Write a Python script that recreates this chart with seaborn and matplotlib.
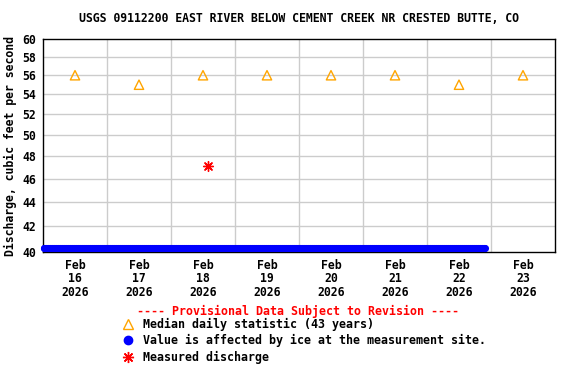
import matplotlib
matplotlib.use("Agg")
import matplotlib.pyplot as plt
from matplotlib.lines import Line2D
from matplotlib.ticker import FixedLocator, NullLocator, NullFormatter
import seaborn as sns
import pandas as pd

# ---- data ----
title = "USGS 09112200 EAST RIVER BELOW CEMENT CREEK NR CRESTED BUTTE, CO"
median_dates = ["2026-02-16 12:00", "2026-02-17 12:00", "2026-02-18 12:00", "2026-02-19 12:00",
                "2026-02-20 12:00", "2026-02-21 12:00", "2026-02-22 12:00", "2026-02-23 12:00"]
median_values = [56, 55, 56, 56, 56, 56, 55, 56]
ice_start = "2026-02-16 00:15"
ice_end = "2026-02-22 21:45"
ice_value = 40.3
measured_dates = ["2026-02-18 14:00"]
measured_values = [47.1]
y_ticks = [40, 42, 44, 46, 48, 50, 52, 54, 56, 58, 60]
tick_days = ["2026-02-16", "2026-02-17", "2026-02-18", "2026-02-19",
             "2026-02-20", "2026-02-21", "2026-02-22", "2026-02-23"]

sns.set_theme(style="white")
plt.rcParams['font.family'] = ['DejaVu Sans Mono', 'DejaVu Sans']
plt.rcParams['font.weight'] = 'bold'
plt.rcParams['text.color'] = 'black'
plt.rcParams['xtick.color'] = 'black'
plt.rcParams['ytick.color'] = 'black'
plt.rcParams['axes.labelcolor'] = 'black'

med = pd.DataFrame({"t": pd.to_datetime(median_dates), "v": median_values})
ice_t = pd.date_range(ice_start, ice_end, freq="15min")
ice = pd.DataFrame({"t": ice_t, "v": [ice_value] * len(ice_t)})
meas = pd.DataFrame({"t": pd.to_datetime(measured_dates), "v": measured_values})

fig = plt.figure(figsize=(5.76, 3.84), dpi=100)
ax = fig.add_axes([43/576, 1-252/384, 512/576, 213/384])
ax.set_yscale("log")

xmin = pd.Timestamp("2026-02-16 00:00")
xmax = pd.Timestamp("2026-02-24 00:00")

# grid
for d in pd.date_range("2026-02-17", "2026-02-23", freq="D"):
    ax.axvline(d, color="#cccccc", lw=1, zorder=0)
for y in y_ticks[1:-1]:
    ax.axhline(y, color="#cccccc", lw=1, zorder=0)

sns.scatterplot(data=ice, x="t", y="v", ax=ax, color="#0000ff", marker="o", s=26,
                linewidth=0, zorder=3, clip_on=False)
sns.scatterplot(data=med, x="t", y="v", ax=ax, marker="^", s=45, facecolors="none",
                edgecolor="#ffa500", linewidth=1, zorder=4)
sns.scatterplot(data=meas, x="t", y="v", ax=ax, marker=(8, 2, 0), s=50, color="#ff0000",
                edgecolor="#ff0000", linewidth=1.0, zorder=5)

ax.set_xlim(xmin, xmax)
ax.set_ylim(40, 60)
ax.yaxis.set_major_locator(FixedLocator(y_ticks))
ax.yaxis.set_minor_locator(NullLocator())
ax.yaxis.set_minor_formatter(NullFormatter())
ax.set_yticklabels([str(v) for v in y_ticks], fontsize=8.3, fontweight="bold")
tick_pos = [pd.Timestamp(d) + pd.Timedelta(hours=12) for d in tick_days]
ax.set_xticks(tick_pos)
ax.set_xticklabels([pd.Timestamp(d).strftime("%b\n%d\n%Y") for d in tick_days],
                   fontsize=8.3, fontweight="bold", linespacing=1.05)
ax.tick_params(axis="both", which="both", length=0, pad=5)
ax.set_xlabel("")
ax.set_ylabel("Discharge, cubic feet per second", fontsize=8.3, fontweight="bold", labelpad=4)
for s in ax.spines.values():
    s.set_color("black")
    s.set_linewidth(1)

fig.text(299/576, 1-19/384, title, ha="center", va="center", fontsize=8.3, fontweight="bold")
fig.text(298/576, 1-311/384, "---- Provisional Data Subject to Revision ----", ha="center",
         va="center", fontsize=8.35, fontweight="bold", color="#ff0000")

handles = [
    Line2D([], [], marker="^", linestyle="none", markerfacecolor="none",
           markeredgecolor="#ffa500", markersize=7.5, markeredgewidth=1),
    Line2D([], [], marker="o", linestyle="none", color="#0000ff", markersize=6),
    Line2D([], [], marker=(8, 2, 0), linestyle="none", color="#ff0000", markersize=8,
           markeredgewidth=1.0),
]
labels = ["Median daily statistic (43 years)",
          "Value is affected by ice at the measurement site.",
          "Measured discharge"]
fig.legend(handles, labels, loc="upper left", bbox_to_anchor=(122/576, 1-318/384),
           frameon=False, handlelength=1.0, handletextpad=0.79,
           labelspacing=0.28, borderpad=0, borderaxespad=0,
           prop={"family": "DejaVu Sans Mono", "weight": "bold", "size": 8.4})

fig.savefig("out.png", dpi=100)
